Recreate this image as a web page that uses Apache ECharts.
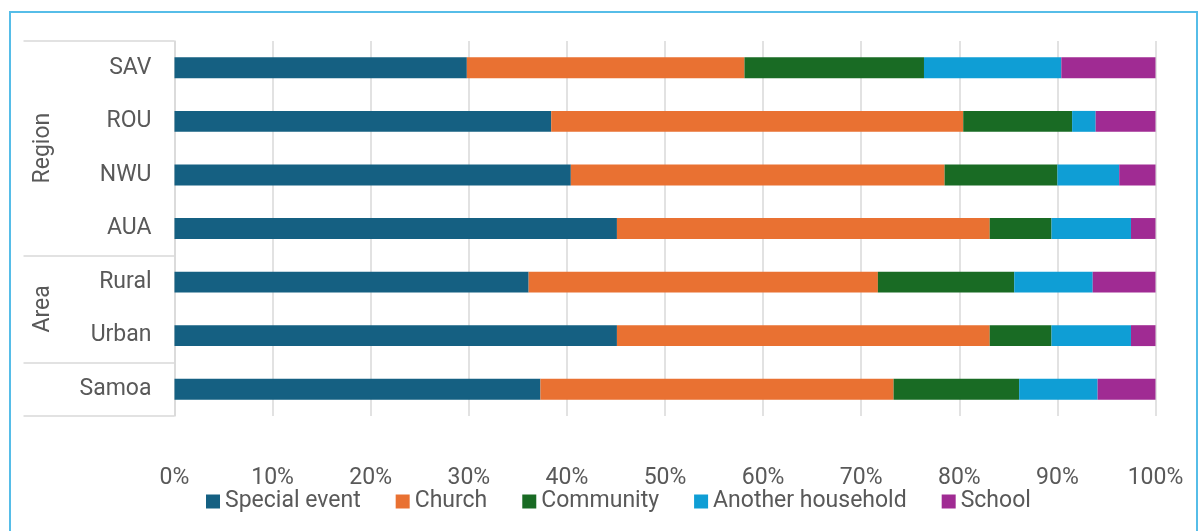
<!DOCTYPE html>
<html>
<head>
<meta charset="utf-8">
<script src="https://cdn.jsdelivr.net/npm/echarts@6/dist/echarts.min.js"></script>
<style>
  html, body { margin: 0; padding: 0; background: #ffffff; }
  #chart { width: 1200px; height: 531px; }
</style>
</head>
<body>
<div id="chart"></div>
<script>
// Categories, top to bottom
const categories = ['SAV', 'ROU', 'NWU', 'AUA', 'Rural', 'Urban', 'Samoa'];

// Outer grouping of the category axis (names and how many categories each spans)
const groupNames = ['Region', 'Area', ''];
const groupSizes = [4, 2, 1];

// Share of each source, in percent
const seriesNames = ['Special event', 'Church', 'Community', 'Another household', 'School'];
const specialEvent     = [29.8, 38.4, 40.4, 45.1, 36.1, 45.1, 37.3];
const church           = [28.3, 42.0, 38.1, 38.0, 35.6, 38.0, 36.0];
const community        = [18.3, 11.1, 11.5,  6.3, 13.9,  6.3, 12.8];
const anotherHousehold = [14.0,  2.4,  6.3,  8.1,  8.0,  8.1,  8.0];
const school           = [ 9.6,  6.1,  3.7,  2.5,  6.4,  2.5,  5.9];

const xTicks = [0, 10, 20, 30, 40, 50, 60, 70, 80, 90, 100];

const seriesValues = [specialEvent, church, community, anotherHousehold, school];
const colors = ['#156082', '#E97132', '#196B24', '#0F9ED5', '#A02B93'];

// Group boundaries and centres in category units
const groupEdges = [0];
groupSizes.forEach(s => groupEdges.push(groupEdges[groupEdges.length - 1] + s));
const groupCentres = groupSizes.map((s, i) => groupEdges[i] + s / 2);

const FONT = 'Roboto';
const SIZE = 23;
const TEXT = '#595959';
const GRID = '#d9d9d9';

const chart = echarts.init(document.getElementById('chart'));

chart.setOption({
  backgroundColor: '#ffffff',
  animation: false,
  textStyle: { fontFamily: FONT, color: TEXT },
  graphic: [{
    type: 'rect',
    shape: { x: 10, y: 12, width: 1187, height: 560 },
    style: { fill: 'none', stroke: '#56BDE8', lineWidth: 2 },
    silent: true
  }],
  legend: {
    top: 485,
    left: 201,
    itemWidth: 14,
    itemHeight: 14,
    itemGap: 35,
    icon: 'rect',
    textStyle: { fontFamily: FONT, fontSize: SIZE, color: TEXT },
    data: seriesNames
  },
  grid: { left: 174.5, right: 44.5, top: 41, bottom: 115, containLabel: false },
  xAxis: {
    type: 'value',
    min: xTicks[0],
    max: xTicks[xTicks.length - 1],
    interval: xTicks[1] - xTicks[0],
    axisLine: { show: false },
    axisTick: { show: false },
    splitLine: { lineStyle: { color: GRID, width: 1.5 } },
    axisLabel: {
      formatter: '{value}%',
      fontFamily: FONT, fontSize: SIZE, color: TEXT,
      margin: 51
    }
  },
  yAxis: [{
    type: 'category',
    inverse: true,
    data: categories,
    axisLine: { lineStyle: { color: GRID, width: 1.5 } },
    axisTick: { show: false },
    axisLabel: { fontFamily: FONT, fontSize: SIZE, color: TEXT, margin: 23 }
  }, {
    // outer level of the category axis: group names and separators
    type: 'value',
    position: 'left',
    inverse: true,
    min: 0,
    max: categories.length,
    axisLine: { show: false },
    splitLine: { show: false },
    axisTick: {
      show: true,
      customValues: groupEdges,
      length: 151,
      lineStyle: { color: GRID, width: 1.5 }
    },
    axisLabel: {
      customValues: groupCentres.filter((c, i) => groupNames[i]),
      rotate: 90,
      margin: 120,
      fontFamily: FONT, fontSize: SIZE, color: TEXT,
      formatter: v => groupNames[groupCentres.indexOf(v)] || ''
    }
  }],
  series: seriesNames.map((name, i) => ({
    name,
    type: 'bar',
    stack: 'total',
    yAxisIndex: 0,
    barWidth: '39%',
    itemStyle: { color: colors[i] },
    data: seriesValues[i]
  }))
});
</script>
</body>
</html>
